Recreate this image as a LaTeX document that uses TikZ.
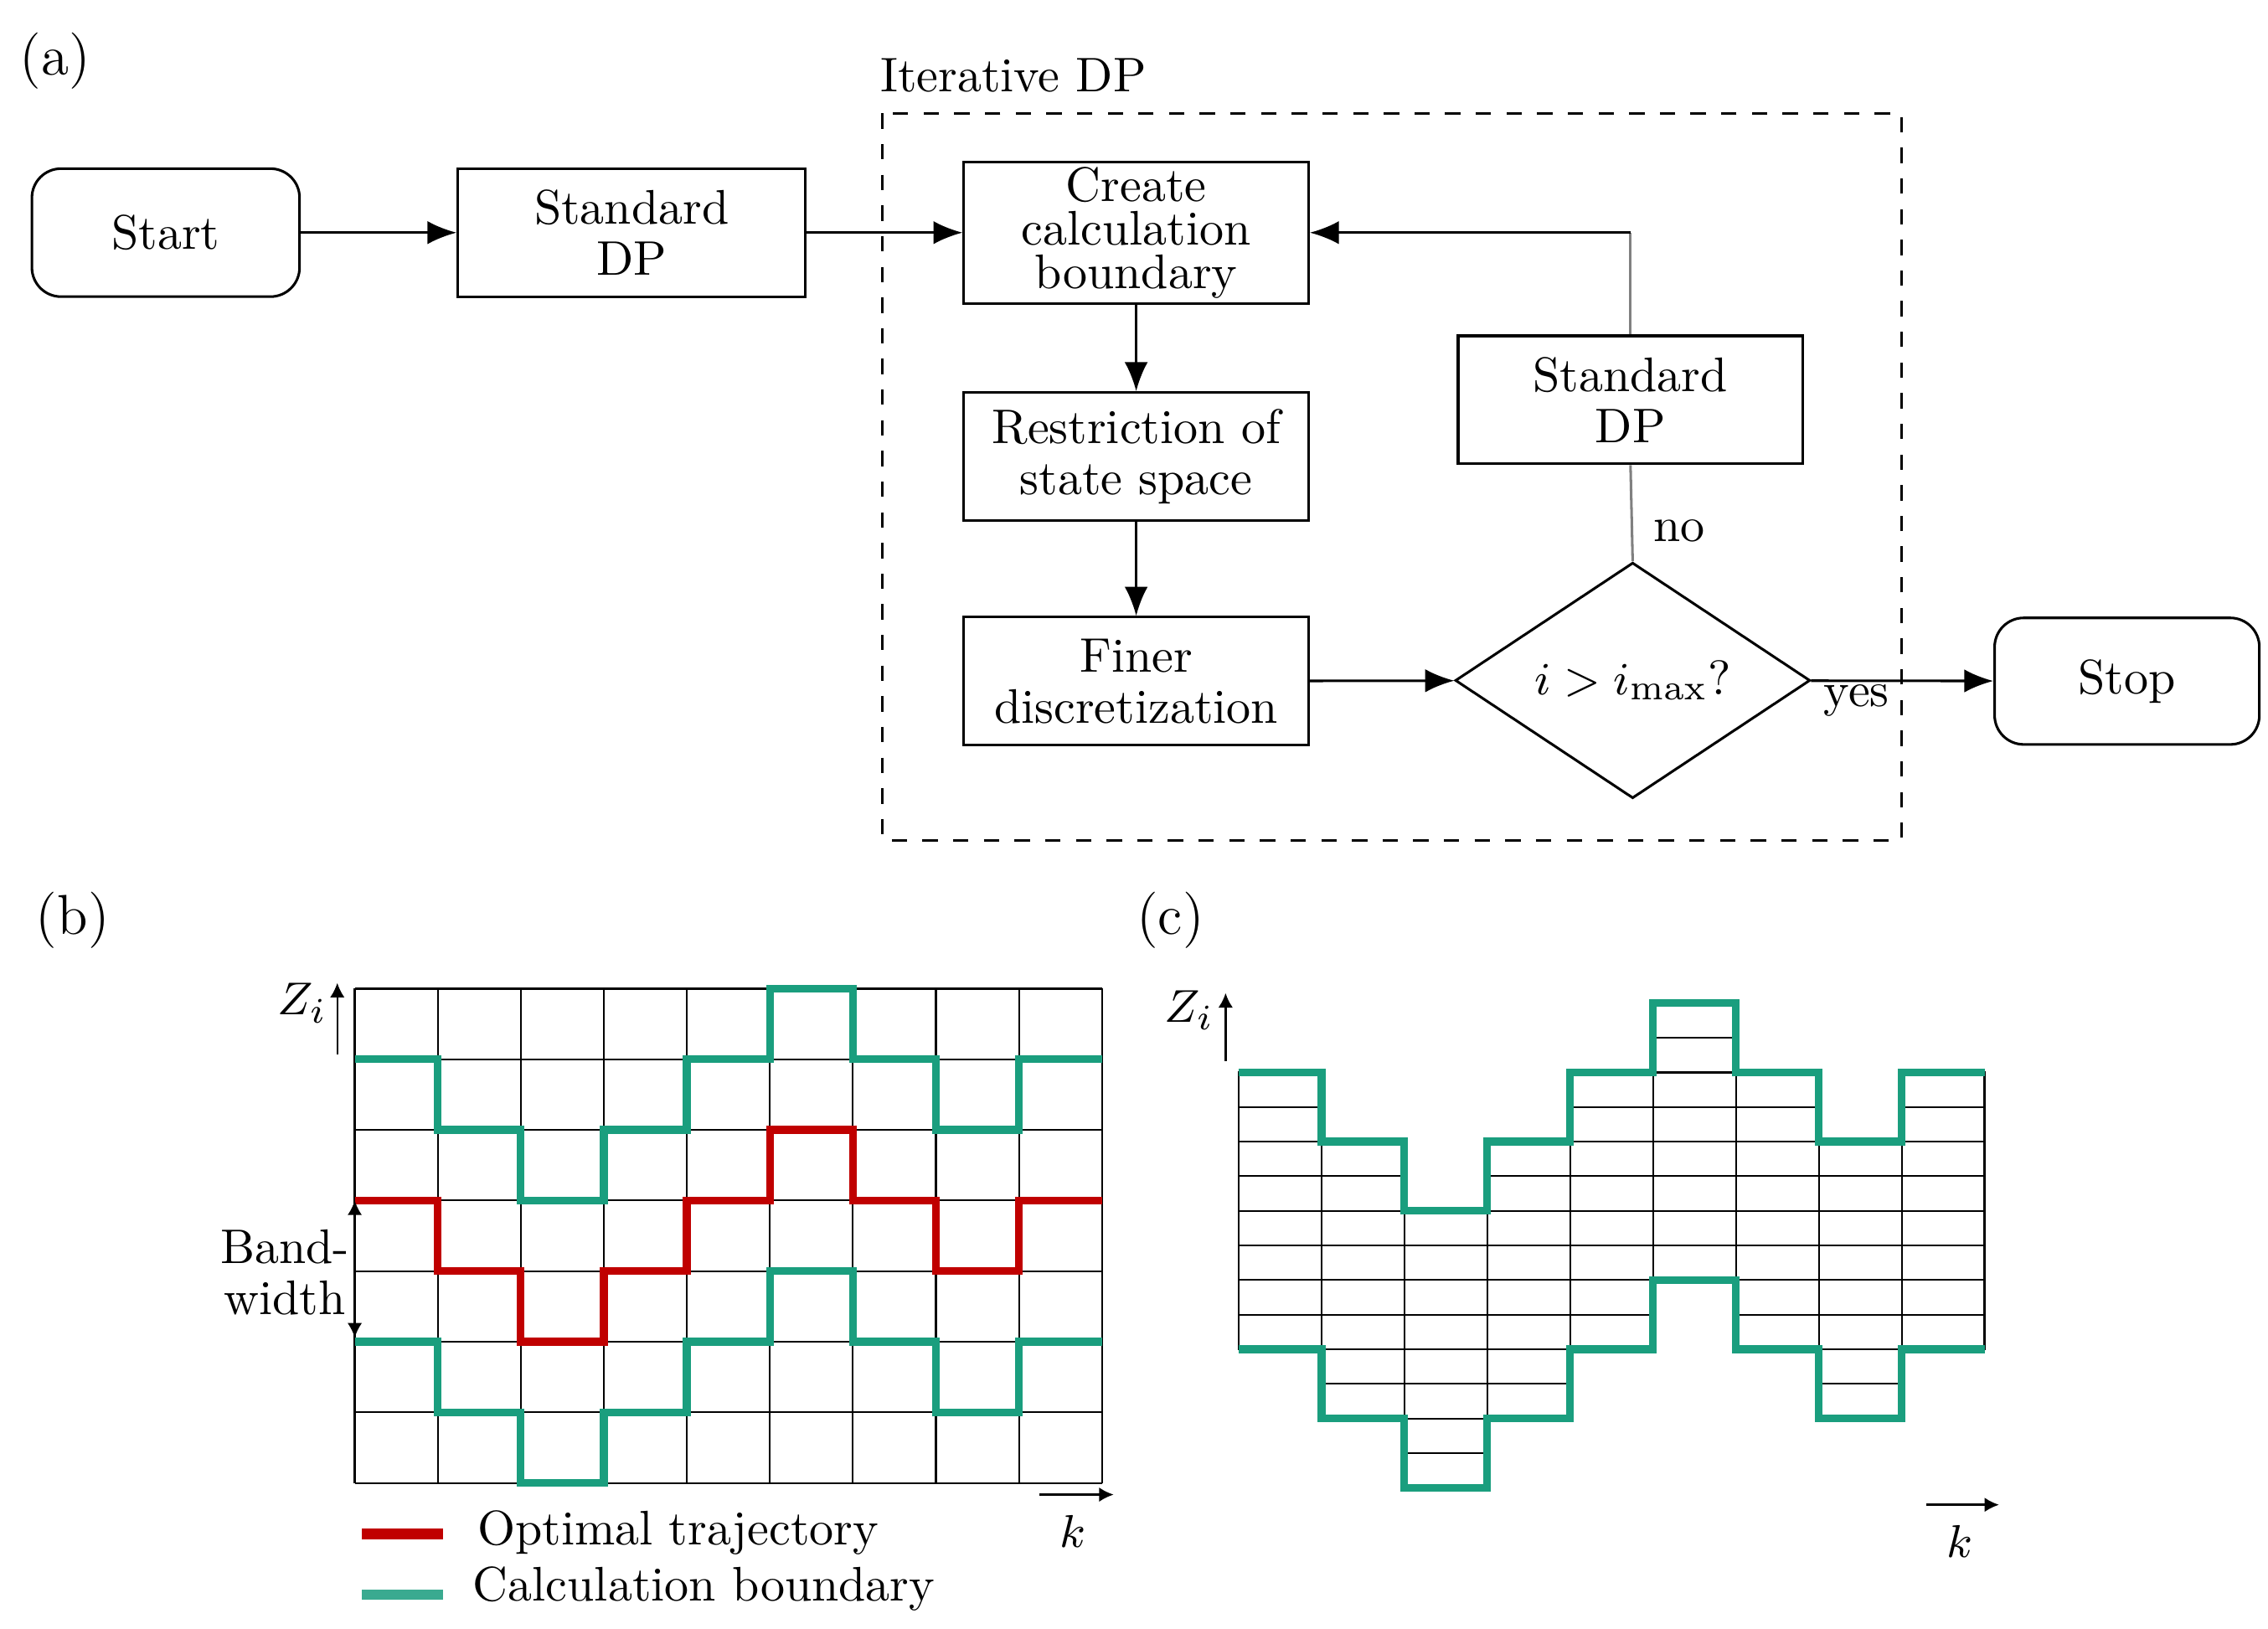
\documentclass[tikz,border=0pt]{standalone}
\usetikzlibrary{shapes.geometric,arrows.meta}
\definecolor{grn}{RGB}{26,158,126}
\definecolor{lgrn}{RGB}{58,170,144}
\definecolor{rd}{RGB}{192,0,0}
\begin{document}
\begin{tikzpicture}[x=0.01cm,y=-0.01cm,
  every node/.style={font=\fontsize{9.5}{10}\selectfont},
  box/.style={draw,line width=0.5pt,minimum width=2.37cm,minimum height=0.88cm,align=center,inner sep=1pt},
  rbox/.style={box,rounded corners=0.2cm},
  arr/.style={-{Latex[length=2mm,width=1.6mm]},line width=0.5pt},
  lbl/.style={font=\fontsize{11}{12}\selectfont},
  gridl/.style={line width=0.35pt},
  gb/.style={grn,line width=1.5pt},
  rb/.style={rd,line width=1.5pt}]
\useasboundingbox (0,0) rectangle (1560,1120);
% (a)
\node[lbl] (la) at (38,42) {(a)};
\draw[dashed,line width=0.5pt] (607,78) rectangle (1308,578);
\node (itl) at (697,52) {Iterative DP};
\node[rbox,minimum width=1.84cm] (start) at (114,160) {Start};
\node[box,minimum width=2.39cm] (sdp1) at (434.5,160) {Standard\\DP};
\node[box,font=\fontsize{9.5}{8.5}\selectfont] (create) at (781.5,160) {Create\\calculation\\boundary};
\node[box] (restr) at (781.5,314) {Restriction of\\state space};
\node[box] (finer) at (781.5,468.5) {Finer\\discretization};
\node[box] (sdp2) at (1121.5,275) {Standard\\DP};
\node[draw,diamond,line width=0.5pt,minimum width=2.44cm,minimum height=1.3cm,inner sep=0pt] (dia) at (1123,468) {$i>i_{\mathrm{max}}$?};
\node[rbox,minimum width=1.82cm,minimum height=0.87cm] (stop) at (1463,468.5) {Stop};
\draw[arr] (start) -- (sdp1);
\draw[arr] (sdp1) -- (create);
\draw[arr] (create) -- (restr);
\draw[arr] (restr) -- (finer);
\draw[arr] (finer) -- (dia);
\draw[arr] (dia) -- (stop);
\draw[gray,line width=0.5pt] (dia.north) -- (sdp2.south);
\coordinate (corner) at (sdp2.north |- create.east);
\draw[gray,line width=0.5pt] (sdp2.north) -- (corner);
\draw[arr] (corner) -- (create.east);
\node (no) at (1155,365) {no};
\node (yes) at (1277,482) {yes};
% (b)
\node[lbl] (lb) at (50,633) {(b)};
\foreach \i in {0,...,9} \draw[gridl] ({244+57.11*\i},680) -- ({244+57.11*\i},1020);
\foreach \j in {0,...,7} \draw[gridl] (244,{680+48.57*\j}) -- (758,{680+48.57*\j});
\def\bpath{(244,728.6) -- (301.1,728.6) -- (301.1,777.1) -- (358.2,777.1) -- (358.2,825.7) -- (415.3,825.7) -- (415.3,777.1) -- (472.4,777.1) -- (472.4,728.6) -- (529.6,728.6) -- (529.6,680) -- (586.7,680) -- (586.7,728.6) -- (643.8,728.6) -- (643.8,777.1) -- (700.9,777.1) -- (700.9,728.6) -- (758,728.6)}
\draw[gb] \bpath;
\draw[rb,shift={(0,97.14)}] \bpath;
\draw[gb,shift={(0,194.28)}] \bpath;
\draw[{Latex[length=1mm,width=1mm]}-{Latex[length=1mm,width=1mm]},line width=0.4pt] (244,825.7) -- (244,920);
\node[align=center] (bw) at (196,875) {Band-\\width};
\coordinate (zb0) at (232,725); \coordinate (zb1) at (232,676);
\draw[-{Latex[length=1mm,width=1mm]},line width=0.4pt] (zb0) -- (zb1);
\node (zb) at (208,690) {$Z_i$};
\coordinate (kb0) at (715,1028); \coordinate (kb1) at (766,1028);
\draw[-{Latex[length=1mm,width=1mm]},line width=0.4pt] (kb0) -- (kb1);
\node (kb) at (738,1053) {$k$};
\draw[rd,line width=2pt] (249,1055) -- (305,1055);
\node[anchor=west] (leg1) at (316,1054) {Optimal trajectory};
\draw[lgrn,line width=2pt] (249,1097) -- (305,1097);
\node[anchor=west] (leg2) at (313,1093) {Calculation boundary};
% (c)
\node[lbl] (lc) at (805,633) {(c)};
\foreach \i/\t in {0/1,1/2,2/3,3/2,4/1,5/0,6/1,7/2,8/1} {
  \draw[gridl] ({852+57*\i},{690+47.6*\t}) rectangle ({852+57*(\i+1)},{690+47.6*(\t+4)});
  \foreach \j in {1,...,7} \draw[gridl] ({852+57*\i},{690+47.6*\t+23.8*\j}) -- ({852+57*(\i+1)},{690+47.6*\t+23.8*\j});
}
\def\cpath{(852,737.6) -- (909,737.6) -- (909,785.2) -- (966,785.2) -- (966,832.8) -- (1023,832.8) -- (1023,785.2) -- (1080,785.2) -- (1080,737.6) -- (1137,737.6) -- (1137,690) -- (1194,690) -- (1194,737.6) -- (1251,737.6) -- (1251,785.2) -- (1308,785.2) -- (1308,737.6) -- (1365,737.6)}
\draw[gb] \cpath;
\draw[gb,shift={(0,190.4)}] \cpath;
\coordinate (zc0) at (843,730); \coordinate (zc1) at (843,683);
\draw[-{Latex[length=1mm,width=1mm]},line width=0.4pt] (zc0) -- (zc1);
\node (zc) at (818,695) {$Z_i$};
\coordinate (kc0) at (1325,1035); \coordinate (kc1) at (1375,1035);
\draw[-{Latex[length=1mm,width=1mm]},line width=0.4pt] (kc0) -- (kc1);
\node (kc) at (1348,1060) {$k$};
\end{tikzpicture}
\end{document}
